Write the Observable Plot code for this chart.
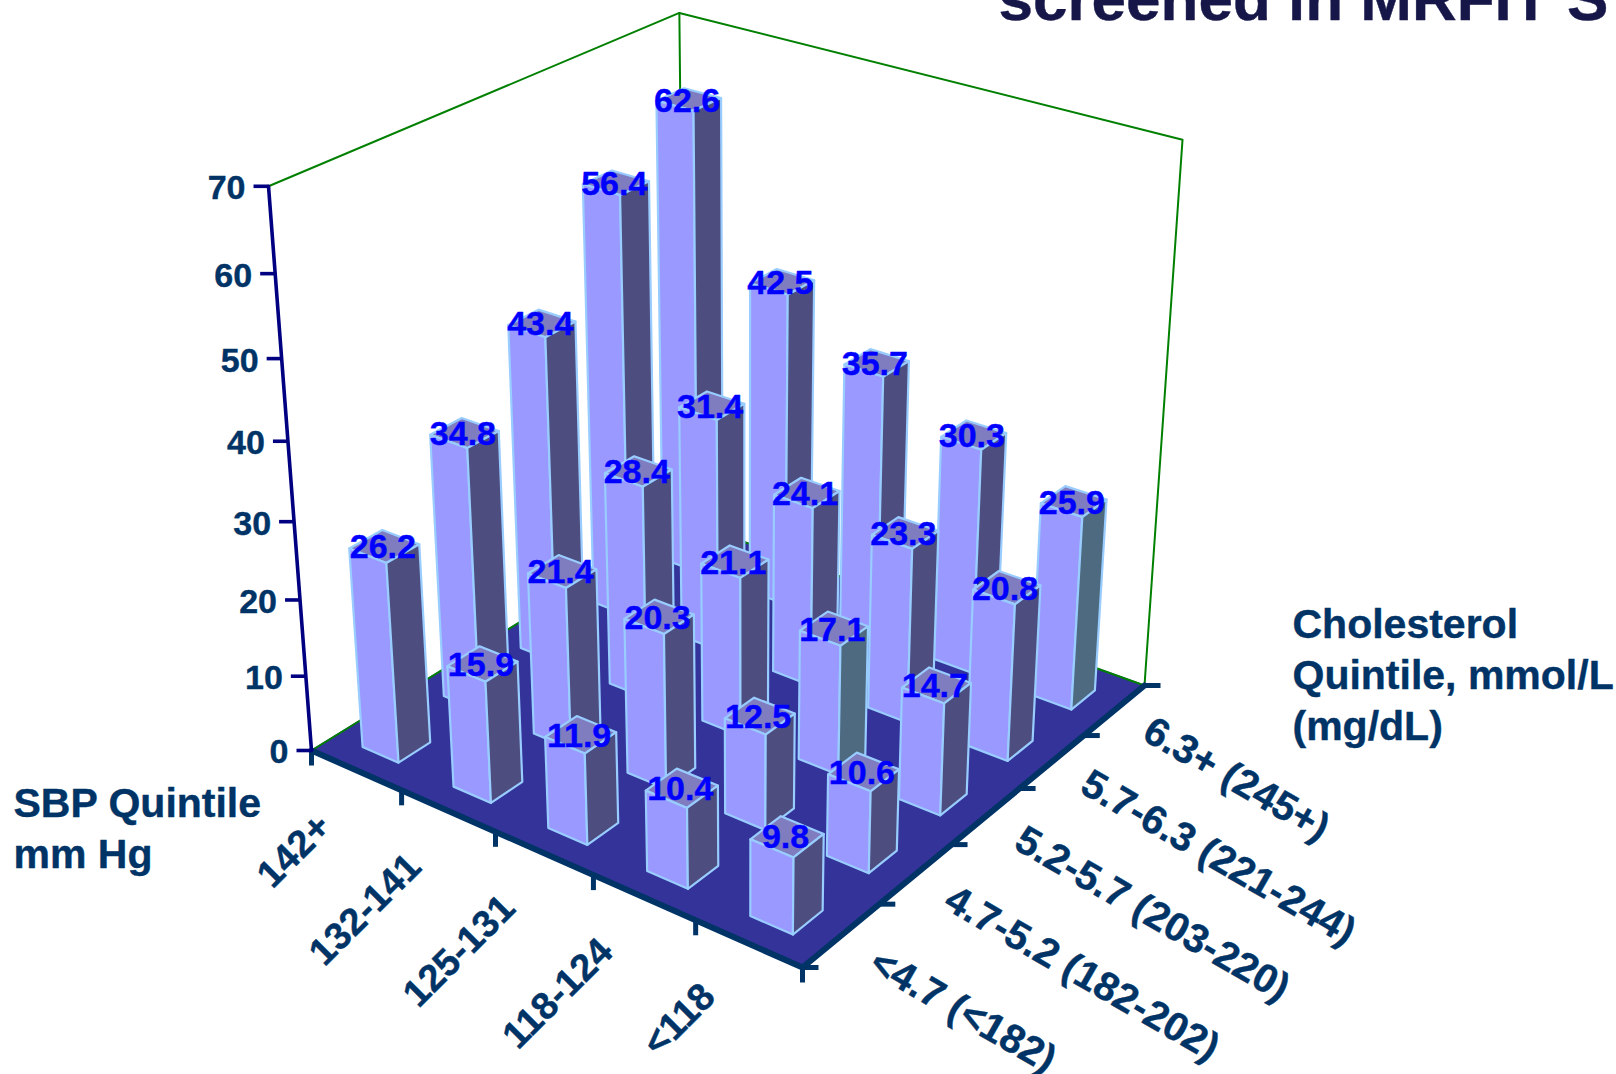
<!DOCTYPE html>
<html>
<head>
<meta charset="utf-8">
<script src="https://cdn.jsdelivr.net/npm/d3@7"></script>
<script src="https://cdn.jsdelivr.net/npm/@observablehq/plot@0.6"></script>
<style>
  html, body { margin: 0; padding: 0; background: #fff; overflow: hidden; }
  svg { display: block; }
</style>
</head>
<body>
<div id="chart"></div>
<script>
// Categories along the two floor axes
const sbpLabels = ["142+", "132-141", "125-131", "118-124", "<118"];
const cholLabels = ["<4.7 (<182)", "4.7-5.2 (182-202)", "5.2-5.7 (203-220)", "5.7-6.3 (221-244)", "6.3+ (245+)"];
const heightTicks = [0, 10, 20, 30, 40, 50, 60, 70];

// Rate per SBP quintile, listed from the lowest to the highest cholesterol quintile
const sbp142 = [26.2, 34.8, 43.4, 56.4, 62.6];
const sbp132 = [15.9, 21.4, 28.4, 31.4, 42.5];
const sbp125 = [11.9, 20.3, 21.1, 24.1, 35.7];
const sbp118 = [10.4, 12.5, 17.1, 23.3, 30.3];
const sbpLow = [9.8, 10.6, 14.7, 20.8, 25.9];
const rates = [sbp142, sbp132, sbp125, sbp118, sbpLow];

// Bars whose shaded side is tinted teal
const tintedBars = ["17.1", "25.9"];

const title = "screened in MRFIT S";
const sbpTitle = ["SBP Quintile", "mm Hg"];
const cholTitle = ["Cholesterol", "Quintile, mmol/L", "(mg/dL)"];

const ink = "#003366";
const font = "Liberation Sans";
const zMax = 70;

// Bar footprint around its cell centre, in floor units
const barHalfU = 0.04;
const barBackV = 0.035;
const barFrontV = 0.042;

// Perspective camera: u and v run 0-1 across the floor, z runs 0-1 up the walls
function project(u, v, z) {
  const X = 409.98 * u + 470.47 * v - 67.2 * z + 311;
  const Y = 119.31 * u - 155.9 * v - 581 * z + 750;
  const W = -0.10102 * u + 0.1425 * v - 0.09035 * z + 1;
  return [X / W, Y / W];
}
const at = (u, v, value) => project(u, v, value / zMax);
const vertex = (id, fill, u, v, value) => {
  const [px, py] = at(u, v, value);
  return {id, fill, px, py};
};

// Cells back to front, so nearer bars paint over farther ones
const cells = rates.flatMap((row, i) => row.map((value, j) => ({i, j, value})))
  .sort((a, b) => (a.i - a.j) - (b.i - b.j));

const faces = cells.flatMap(({i, j, value}) => {
  const u = (i + 0.5) / 5, v = (j + 0.5) / 5;
  const u0 = u - barHalfU, u1 = u + barHalfU, v0 = v - barFrontV, v1 = v + barBackV;
  const key = `${i}-${j}`;
  const side = tintedBars.includes(String(value)) ? "#4d6a80" : "#4d4d80";
  return [
    ...[[u0, v0], [u1, v0], [u1, v1], [u0, v1]].map(([a, b]) => vertex(key + "t", "#7f7cc0", a, b, value)),
    ...[[u0, v0, 0], [u1, v0, 0], [u1, v0, value], [u0, v0, value]].map(([a, b, c]) => vertex(key + "l", "#9999ff", a, b, c)),
    ...[[u1, v0, 0], [u1, v1, 0], [u1, v1, value], [u1, v0, value]].map(([a, b, c]) => vertex(key + "r", side, a, b, c))
  ];
});

const pt = (u, v, value) => { const [px, py] = at(u, v, value); return {px, py}; };
const floor = [pt(0, 0, 0), pt(1, 0, 0), pt(1, 1, 0), pt(0, 1, 0)];
const wallLine = [pt(1, 1, 0), pt(1, 1, zMax), pt(0, 1, zMax), pt(0, 0, zMax)];
const backLines = [[pt(0, 0, 0), pt(0, 1, 0), pt(1, 1, 0)], [pt(0, 1, 0), pt(0, 1, zMax)]];
const frontEdge = [pt(0, 0, 0), pt(1, 0, 0), pt(1, 1, 0)];
const heightAxis = [pt(0, 0, 0), pt(0, 0, zMax)];

const sbpTicks = d3.range(6).map(i => pt(i / 5, 0, 0));
const cholTicks = d3.range(6).map(j => pt(1, j / 5, 0));
const zTicks = heightTicks.map(t => ({t, ...pt(0, 0, t)}));

// Glyphs get a hairline outline of their own colour for a heavier weight
const bold = {fontFamily: font, fontWeight: "bold", strokeWidth: 0.4};

const chart = Plot.plot({
  width: 1616,
  height: 1074,
  margin: 0,
  x: {type: "linear", domain: [0, 1616], range: [0, 1616], axis: null},
  y: {type: "linear", domain: [0, 1074], range: [0, 1074], axis: null},
  style: {background: "#fff"},
  marks: [
    // Floor and wall outline
    Plot.line(floor, {x: "px", y: "py", fill: "#333399", stroke: "#333399", curve: "linear-closed"}),
    ...backLines.map(l => Plot.line(l, {x: "px", y: "py", stroke: "#008000", strokeWidth: 2})),
    Plot.line(wallLine, {x: "px", y: "py", stroke: "#008000", strokeWidth: 2}),

    // Edge ticks under the floor
    Plot.link(sbpTicks, {x1: "px", y1: "py", x2: "px", y2: d => d.py + 15, stroke: ink, strokeWidth: 5}),
    Plot.link(cholTicks, {x1: "px", y1: "py", x2: d => d.px + 16, y2: "py", stroke: ink, strokeWidth: 5}),
    Plot.line(frontEdge, {x: "px", y: "py", stroke: ink, strokeWidth: 6, strokeLinejoin: "miter"}),

    // Height axis
    Plot.line(heightAxis, {x: "px", y: "py", stroke: "#000080", strokeWidth: 3.6}),
    Plot.link(zTicks, {x1: d => d.px - 15, y1: "py", x2: "px", y2: "py", stroke: "#000080", strokeWidth: 3.6}),
    Plot.text(zTicks, {x: d => d.px - 23, y: d => d.py + 2, text: d => String(d.t), textAnchor: "end", lineAnchor: "middle",
      fill: ink, stroke: ink, fontSize: 34, ...bold}),

    // Bars
    Plot.line(faces, {x: "px", y: "py", z: "id", fill: "fill", stroke: "#99ccff", strokeWidth: 2.2,
      strokeLinejoin: "round", curve: "linear-closed"}),

    // Value labels sit at the centre of each bar top
    Plot.text(cells, {
      x: d => at((d.i + 0.5) / 5, (d.j + 0.5) / 5, d.value)[0] - 3,
      y: d => at((d.i + 0.5) / 5, (d.j + 0.5) / 5, d.value)[1] + 2,
      text: d => d.value.toFixed(1), fill: "#0000ff", stroke: "#0000ff", fontSize: 34, lineAnchor: "middle", ...bold
    }),

    // Floor category labels
    Plot.text(sbpLabels, {
      x: (d, i) => pt(i / 5, 0, 0).px + 13,
      y: (d, i) => pt(i / 5, 0, 0).py + 70,
      text: d => d, rotate: -45, textAnchor: "end", lineAnchor: "middle", fill: ink, stroke: ink, fontSize: 38, ...bold
    }),
    Plot.text(cholLabels, {
      x: (d, j) => pt(1, j / 5, 0).px + 71 - 8 * j / 4,
      y: (d, j) => pt(1, j / 5, 0).py - 8,
      text: d => d, rotate: 30, textAnchor: "start", lineAnchor: "middle", fill: ink, stroke: ink, fontSize: 40, ...bold
    }),

    // Axis titles and the heading
    Plot.text(sbpTitle, {x: () => 13, y: (d, i) => 816 + i * 51, text: d => d, textAnchor: "start", lineAnchor: "bottom",
      fill: ink, stroke: ink, fontSize: 41, ...bold}),
    Plot.text(cholTitle, {x: () => 1292, y: (d, i) => 637.5 + i * 51, text: d => d, textAnchor: "start", lineAnchor: "bottom",
      fill: ink, stroke: ink, fontSize: 41, ...bold}),
    Plot.text([title], {x: () => 998, y: () => 19, text: d => d, textAnchor: "start", lineAnchor: "bottom",
      fill: "#161648", stroke: "#161648", fontSize: 62, ...bold})
  ]
});
document.getElementById("chart").appendChild(chart);
</script>
</body>
</html>
